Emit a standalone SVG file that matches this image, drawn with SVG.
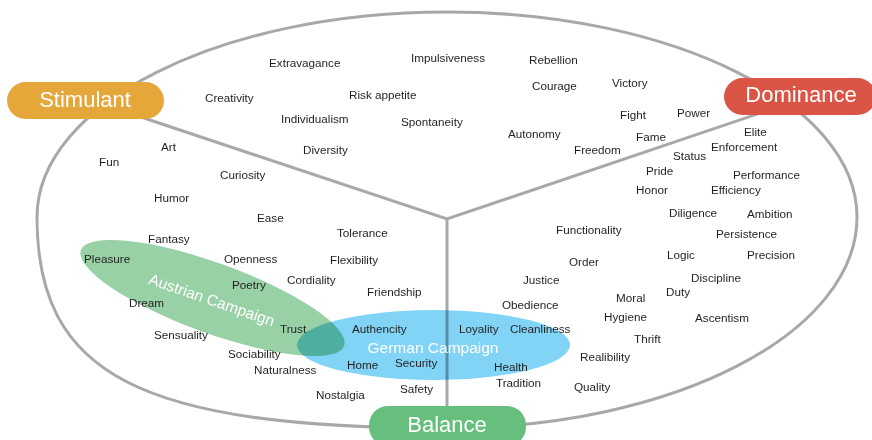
<svg xmlns="http://www.w3.org/2000/svg" width="872" height="440" viewBox="0 0 872 440">
<style>
.w{font-family:"Liberation Sans",Arial,sans-serif;font-size:11.7px;fill:#231f20}
.pill{font-family:"Liberation Sans",Arial,sans-serif;font-size:22px;fill:#ffffff;text-anchor:middle}
.camp{font-family:"Liberation Sans",Arial,sans-serif;font-size:15.5px;fill:#ffffff;text-anchor:middle}
.ln{fill:none;stroke:#a8a8ac;stroke-width:3}
</style>
<rect x="0" y="0" width="872" height="440" fill="#ffffff"/>
<g id="connectors">
<path id="outline" class="ln" d="M37 217 C37 103.8 220.6 12 447 12 C673.4 12 857 103.8 857 217 C857 333.5 673.4 428 447 428 C139.5 428 37 375 37 217 Z"/>
<path id="div-stimulant-dominance" class="ln" d="M120 110 L447 219 L775 108"/>
<path id="div-balance" class="ln" d="M447 219 L447 412"/>
</g>
<g id="austrian-campaign">
<ellipse cx="212.5" cy="298" rx="140" ry="35" transform="rotate(20 212.5 298)" fill="#98d1a6"/>
</g>
<g id="german-campaign">
<ellipse cx="433.5" cy="345" rx="136.5" ry="35" fill="#82d4f6" style="mix-blend-mode:multiply"/>
</g>
<g id="campaign-labels">
<text class="camp" x="210" y="305" transform="rotate(19 210 305)">Austrian Campaign</text>
<text class="camp" x="433" y="353">German Campaign</text>
</g>
<g id="words">
<text class="w" x="269" y="67">Extravagance</text>
<text class="w" x="411" y="62">Impulsiveness</text>
<text class="w" x="529" y="64">Rebellion</text>
<text class="w" x="205" y="102">Creativity</text>
<text class="w" x="349" y="99">Risk appetite</text>
<text class="w" x="532" y="90">Courage</text>
<text class="w" x="612" y="87">Victory</text>
<text class="w" x="281" y="123">Individualism</text>
<text class="w" x="401" y="126">Spontaneity</text>
<text class="w" x="620" y="119">Fight</text>
<text class="w" x="677" y="117">Power</text>
<text class="w" x="508" y="138">Autonomy</text>
<text class="w" x="636" y="141">Fame</text>
<text class="w" x="744" y="136">Elite</text>
<text class="w" x="161" y="151">Art</text>
<text class="w" x="303" y="154">Diversity</text>
<text class="w" x="574" y="154">Freedom</text>
<text class="w" x="711" y="151">Enforcement</text>
<text class="w" x="673" y="160">Status</text>
<text class="w" x="99" y="166">Fun</text>
<text class="w" x="646" y="175">Pride</text>
<text class="w" x="220" y="179">Curiosity</text>
<text class="w" x="733" y="179">Performance</text>
<text class="w" x="636" y="194">Honor</text>
<text class="w" x="711" y="194">Efficiency</text>
<text class="w" x="154" y="202">Humor</text>
<text class="w" x="669" y="217">Diligence</text>
<text class="w" x="747" y="218">Ambition</text>
<text class="w" x="257" y="222">Ease</text>
<text class="w" x="556" y="234">Functionality</text>
<text class="w" x="337" y="237">Tolerance</text>
<text class="w" x="716" y="238">Persistence</text>
<text class="w" x="148" y="243">Fantasy</text>
<text class="w" x="84" y="263">Pleasure</text>
<text class="w" x="224" y="263">Openness</text>
<text class="w" x="330" y="264">Flexibility</text>
<text class="w" x="667" y="259">Logic</text>
<text class="w" x="747" y="259">Precision</text>
<text class="w" x="569" y="266">Order</text>
<text class="w" x="287" y="284">Cordiality</text>
<text class="w" x="691" y="282">Discipline</text>
<text class="w" x="523" y="284">Justice</text>
<text class="w" x="232" y="289">Poetry</text>
<text class="w" x="367" y="296">Friendship</text>
<text class="w" x="666" y="296">Duty</text>
<text class="w" x="616" y="302">Moral</text>
<text class="w" x="129" y="307">Dream</text>
<text class="w" x="502" y="309">Obedience</text>
<text class="w" x="604" y="321">Hygiene</text>
<text class="w" x="695" y="322">Ascentism</text>
<text class="w" x="280" y="333">Trust</text>
<text class="w" x="352" y="333">Authencity</text>
<text class="w" x="459" y="333">Loyality</text>
<text class="w" x="510" y="333">Cleanliness</text>
<text class="w" x="154" y="339">Sensuality</text>
<text class="w" x="634" y="343">Thrift</text>
<text class="w" x="228" y="358">Sociability</text>
<text class="w" x="580" y="361">Realibility</text>
<text class="w" x="395" y="367">Security</text>
<text class="w" x="347" y="369">Home</text>
<text class="w" x="494" y="371">Health</text>
<text class="w" x="254" y="374">Naturalness</text>
<text class="w" x="496" y="387">Tradition</text>
<text class="w" x="574" y="391">Quality</text>
<text class="w" x="400" y="393">Safety</text>
<text class="w" x="316" y="399">Nostalgia</text>
</g>
<g id="stimulant">
<rect x="7" y="82" width="157" height="37" rx="18.5" fill="#e6a73a"/>
<text class="pill" x="85" y="107">Stimulant</text>
</g>
<g id="dominance">
<rect x="724" y="78" width="152" height="37" rx="18.5" fill="#da5546"/>
<text class="pill" x="801" y="102">Dominance</text>
</g>
<g id="balance">
<rect x="369" y="406" width="157" height="40" rx="19" fill="#66bf7c"/>
<text class="pill" x="447" y="432">Balance</text>
</g>
</svg>
